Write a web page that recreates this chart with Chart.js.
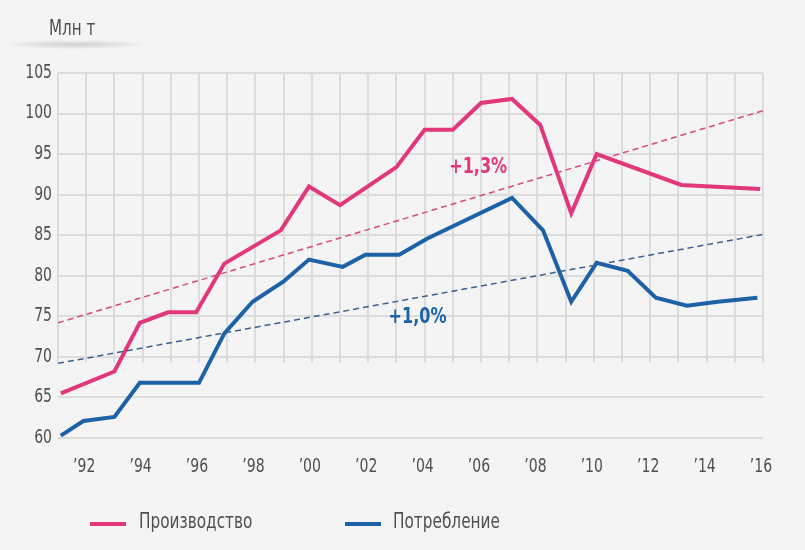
<!DOCTYPE html>
<html>
<head>
<meta charset="utf-8">
<script src="https://cdn.jsdelivr.net/npm/chart.js@4/dist/chart.umd.min.js"></script>
<style>
  html, body { margin: 0; padding: 0; background: #f4f4f4; }
  #wrap { position: relative; width: 805px; height: 550px; }
  .narrow { font-family: "Liberation Sans Narrow", "DejaVu Sans Condensed", "DejaVu Sans", sans-serif; color: #505050; transform-origin: left center; white-space: nowrap; }
  #unit { position: absolute; left: 49px; top: 16px; font-size: 21px; transform: scaleX(0.8); }
  #shade { position: absolute; left: 3px; top: 40px; width: 145px; height: 9px;
    background: radial-gradient(ellipse at center, rgba(0,0,0,0.15) 0%, rgba(0,0,0,0.06) 45%, rgba(0,0,0,0) 72%); }
  .item { position: absolute; top: 509px; }
  .swatch { position: absolute; top: 522px; width: 36px; height: 4px; }
  .item span { display: inline-block; font-size: 21px; transform: scaleX(0.81); transform-origin: left center; }
</style>
</head>
<body>
<div id="wrap">
  <div id="unit" class="narrow">Млн т</div>
  <div id="shade"></div>
  <canvas id="myChart" width="805" height="550"></canvas>
  <div class="swatch" style="left:90px;background:#e2387b"></div>
  <div class="item narrow" style="left:139px"><span>Производство</span></div>
  <div class="swatch" style="left:345px;background:#1d62a6"></div>
  <div class="item narrow" style="left:393px"><span>Потребление</span></div>
</div>
<script>
var prodYears = [1991.1, 1993, 1993.9, 1994.9, 1995.9, 1996.9, 1998.9, 1999.9, 2001, 2003, 2004, 2005, 2006, 2007.1, 2008.1, 2009.2, 2010.1, 2013.1, 2015.9];
var prodValues = [65.5, 68.2, 74.2, 75.5, 75.5, 81.5, 85.6, 91.0, 88.7, 93.4, 98.0, 98.0, 101.3, 101.8, 98.6, 87.7, 95.0, 91.2, 90.7];

var consYears = [1991.1, 1991.9, 1993, 1993.9, 1996, 1996.9, 1997.9, 1999, 1999.9, 2001.1, 2001.9, 2003.1, 2004.1, 2007.1, 2008.2, 2009.2, 2010.1, 2011.2, 2012.2, 2013.3, 2014.4, 2015.8];
var consValues = [60.3, 62.1, 62.6, 66.8, 66.8, 72.9, 76.8, 79.3, 82.0, 81.1, 82.6, 82.6, 84.6, 89.6, 85.6, 76.8, 81.6, 80.6, 77.3, 76.3, 76.8, 77.3];

var trendYears = [1991, 2016];
var prodTrend = [74.2, 100.35];
var consTrend = [69.2, 85.1];

var growthText = ["+1,3%", "+1,0%"];
var growthYears = [2005.9, 2003.75];
var growthValues = [93.3, 74.9];

var vGridBottom = 69.3;

var pink = '#e2387b', blue = '#1d62a6';
var fontFam = '"Liberation Sans Narrow", "DejaVu Sans Condensed", "DejaVu Sans", sans-serif';

function pts(xs, ys) {
  return xs.map(function (x, i) { return { x: x, y: ys[i] }; });
}

// condensed text: the reference uses a narrow face, so squeeze horizontally
function narrowText(ctx, txt, x, y, align, sx) {
  ctx.save();
  ctx.translate(x, y);
  ctx.scale(sx, 1);
  ctx.textAlign = align;
  ctx.fillText(txt, 0, 0);
  ctx.restore();
}

var gridPlugin = {
  id: 'vgrid',
  beforeDatasetsDraw: function (chart) {
    var ctx = chart.ctx, xs = chart.scales.x, ys = chart.scales.y;
    ctx.save();
    ctx.strokeStyle = '#dcdcdc';
    ctx.lineWidth = 2;
    for (var yr = 1991; yr <= 2016; yr++) {
      var px = Math.round(xs.getPixelForValue(yr));
      ctx.beginPath();
      ctx.moveTo(px, ys.getPixelForValue(105));
      ctx.lineTo(px, ys.getPixelForValue(vGridBottom));
      ctx.stroke();
    }
    ctx.restore();
  },
  afterDraw: function (chart) {
    var ctx = chart.ctx, xs = chart.scales.x, ys = chart.scales.y;
    var cols = [pink, blue];
    ctx.save();
    ctx.textBaseline = 'middle';
    ctx.fillStyle = '#505050';
    ctx.font = '19px ' + fontFam;
    ys.ticks.forEach(function (t) {
      narrowText(ctx, String(t.value), xs.left - 6, ys.getPixelForValue(t.value), 'right', 0.82);
    });
    xs.ticks.forEach(function (t) {
      if (t.value % 2 === 0) {
        narrowText(ctx, '\u2019' + String(t.value).slice(2), xs.getPixelForValue(t.value) - 2, 467, 'center', 0.82);
      }
    });
    ctx.font = 'bold 21px ' + fontFam;
    growthText.forEach(function (t, i) {
      ctx.fillStyle = cols[i];
      narrowText(ctx, t, xs.getPixelForValue(growthYears[i]), ys.getPixelForValue(growthValues[i]), 'center', 0.85);
    });
    ctx.restore();
  }
};

var chart = new Chart("myChart", {
  type: "line",
  data: {
    datasets: [{
      data: pts(trendYears, prodTrend),
      borderColor: '#d9487f',
      borderWidth: 1.5,
      borderDash: [6, 4],
      pointRadius: 0,
      fill: false
    }, {
      data: pts(trendYears, consTrend),
      borderColor: '#3b5f92',
      borderWidth: 1.5,
      borderDash: [6, 4],
      pointRadius: 0,
      fill: false
    }, {
      label: 'Производство',
      data: pts(prodYears, prodValues),
      borderColor: pink,
      borderWidth: 4,
      pointRadius: 0,
      fill: false
    }, {
      label: 'Потребление',
      data: pts(consYears, consValues),
      borderColor: blue,
      borderWidth: 4,
      pointRadius: 0,
      fill: false
    }]
  },
  options: {
    responsive: false,
    animation: false,
    layout: { padding: { top: 73, right: 42, left: 0, bottom: 72 } },
    plugins: {
      legend: { display: false },
      tooltip: { enabled: false }
    },
    scales: {
      x: {
        type: 'linear',
        min: 1991,
        max: 2016,
        grid: { display: false },
        border: { display: false },
        afterFit: function (s) { s.height = 40; },
        ticks: { stepSize: 1, autoSkip: false, display: false }
      },
      y: {
        min: 60,
        max: 105,
        afterFit: function (s) { s.width = 58; },
        grid: { color: '#dcdcdc', lineWidth: 2, drawTicks: false },
        border: { display: false },
        ticks: { stepSize: 5, display: false }
      }
    }
  },
  plugins: [gridPlugin]
});
</script>
</body>
</html>
